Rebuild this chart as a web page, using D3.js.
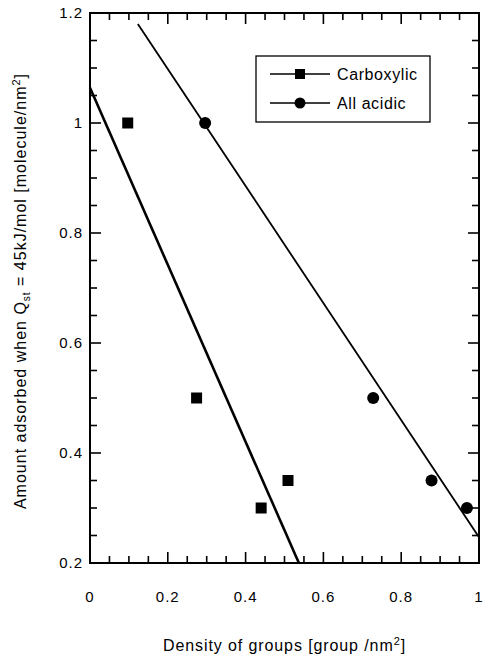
<!DOCTYPE html>
<html>
<head>
<meta charset="utf-8">
<script src="https://cdn.jsdelivr.net/npm/d3@7"></script>
<style>
  body { margin: 0; background: #fff; }
  text { font-family: "Liberation Sans", Arial, sans-serif; fill: #000; }
</style>
</head>
<body>
<svg id="chart" width="484" height="658"></svg>
<script>
// data
const carboxylicX = [0.097, 0.274, 0.44, 0.509];
const carboxylicY = [1.0, 0.5, 0.3, 0.35];
const acidicX = [0.296, 0.728, 0.878, 0.969];
const acidicY = [1.0, 0.5, 0.35, 0.3];
// fitted lines, drawn as given endpoints
const carboxylicFit = [[0, 1.064], [0.537, 0.2]];
const acidicFit = [[0.123, 1.18], [1.0, 0.247]];
const xTicks = [0, 0.2, 0.4, 0.6, 0.8, 1];
const yTicks = [0.2, 0.4, 0.6, 0.8, 1, 1.2];
const xTickLabels = ["0", "0.2", "0.4", "0.6", "0.8", "1"];
const yTickLabels = ["0.2", "0.4", "0.6", "0.8", "1", "1.2"];
const xMinorTicks = [0.05, 0.1, 0.15, 0.25, 0.3, 0.35, 0.45, 0.5,
  0.55, 0.65, 0.7, 0.75, 0.85, 0.9, 0.95];
const yMinorTicks = [0.25, 0.3, 0.35, 0.45, 0.5, 0.55, 0.65, 0.7,
  0.75, 0.85, 0.9, 0.95, 1.05, 1.1, 1.15];

const svg = d3.select("#chart");
const plotL = 90, plotR = 479, plotT = 13, plotB = 563;

const x = d3.scaleLinear().domain([0, 1]).range([plotL, plotR]);
const y = d3.scaleLinear().domain([0.2, 1.2]).range([plotB, plotT]);

svg.append("rect")
  .attr("x", plotL).attr("y", plotT)
  .attr("width", plotR - plotL).attr("height", plotB - plotT)
  .attr("fill", "none").attr("stroke", "#000").attr("stroke-width", 2);

// inward ticks on all four sides
function ticksX(values, len) {
  svg.append("g").selectAll("line").data(values).join("line")
    .attr("x1", (d) => x(d)).attr("x2", (d) => x(d))
    .attr("y1", plotB).attr("y2", plotB - len)
    .style("stroke", "#000").style("stroke-width", "1.6px");
  svg.append("g").selectAll("line").data(values).join("line")
    .attr("x1", (d) => x(d)).attr("x2", (d) => x(d))
    .attr("y1", plotT).attr("y2", plotT + len)
    .style("stroke", "#000").style("stroke-width", "1.6px");
}
function ticksY(values, len) {
  svg.append("g").selectAll("line").data(values).join("line")
    .attr("y1", (d) => y(d)).attr("y2", (d) => y(d))
    .attr("x1", plotL).attr("x2", plotL + len)
    .style("stroke", "#000").style("stroke-width", "1.6px");
  svg.append("g").selectAll("line").data(values).join("line")
    .attr("y1", (d) => y(d)).attr("y2", (d) => y(d))
    .attr("x1", plotR).attr("x2", plotR - len)
    .style("stroke", "#000").style("stroke-width", "1.6px");
}
ticksX(xMinorTicks, 7);
ticksX(xTicks, 11);
ticksY(yMinorTicks, 7);
ticksY(yTicks, 11);

// tick labels
svg.append("g").selectAll("text").data(xTicks).join("text")
  .attr("x", (d) => x(d)).attr("y", 602)
  .attr("text-anchor", "middle")
  .attr("font-size", 15).attr("letter-spacing", 1)
  .text((d, i) => xTickLabels[i]);
svg.append("g").selectAll("text").data(yTicks).join("text")
  .attr("x", 83).attr("y", (d) => y(d) + 5)
  .attr("text-anchor", "end")
  .attr("font-size", 15).attr("letter-spacing", 1)
  .text((d, i) => yTickLabels[i]);

// fit lines
const line = d3.line().x((d) => x(d[0])).y((d) => y(d[1]));
svg.append("path").attr("d", line(carboxylicFit))
  .attr("fill", "none").attr("stroke", "#000").attr("stroke-width", 2.6);
svg.append("path").attr("d", line(acidicFit))
  .attr("fill", "none").attr("stroke", "#000").attr("stroke-width", 1.8);

// markers
svg.append("g").selectAll("rect").data(carboxylicX).join("rect")
  .attr("x", (d) => x(d) - 5.5)
  .attr("y", (d, i) => y(carboxylicY[i]) - 5.5)
  .attr("width", 11).attr("height", 11).attr("fill", "#000");
svg.append("g").selectAll("circle").data(acidicX).join("circle")
  .attr("cx", (d) => x(d))
  .attr("cy", (d, i) => y(acidicY[i]))
  .attr("r", 6).attr("fill", "#000");

// legend
const lg = svg.append("g");
lg.append("rect").attr("x", 256).attr("y", 56).attr("width", 174).attr("height", 66)
  .attr("fill", "#fff").attr("stroke", "#000").attr("stroke-width", 1.3);
[["Carboxylic", 74], ["All acidic", 103]].forEach(([label, ly], i) => {
  lg.append("line").attr("x1", 270).attr("x2", 330).attr("y1", ly).attr("y2", ly)
    .attr("stroke", "#000").attr("stroke-width", 1.5);
  if (i === 0) {
    lg.append("rect").attr("x", 295).attr("y", ly - 5).attr("width", 10).attr("height", 10).attr("fill", "#000");
  } else {
    lg.append("circle").attr("cx", 300).attr("cy", ly).attr("r", 5.5).attr("fill", "#000");
  }
  lg.append("text").attr("x", 337).attr("y", ly + 6)
    .attr("font-size", 16).attr("letter-spacing", 0.6).text(label);
});

// axis titles
const xt = svg.append("text").attr("x", (plotL + plotR) / 2).attr("y", 651)
  .attr("text-anchor", "middle").attr("font-size", 16).attr("letter-spacing", 0.9);
xt.append("tspan").text("Density of groups [group /nm");
xt.append("tspan").attr("dy", -6).attr("font-size", 11).text("2");
xt.append("tspan").attr("dy", 6).text("]");

const yt = svg.append("text")
  .attr("transform", `translate(26,291) rotate(-90)`)
  .attr("text-anchor", "middle").attr("font-size", 16).attr("letter-spacing", 1);
yt.append("tspan").text("Amount adsorbed when Q");
yt.append("tspan").attr("dy", 4).attr("font-size", 10).text("st");
yt.append("tspan").attr("dy", -4).text(" = 45kJ/mol [molecule/nm");
yt.append("tspan").attr("dy", -6).attr("font-size", 11).text("2");
yt.append("tspan").attr("dy", 6).text("]");
</script>
</body>
</html>
